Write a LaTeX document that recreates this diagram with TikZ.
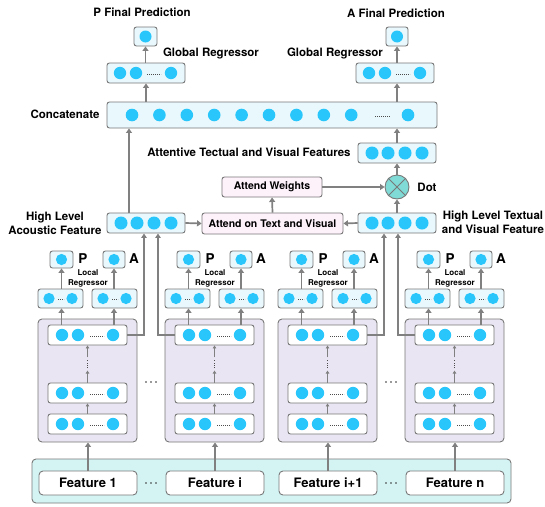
\documentclass[tikz,border=0pt]{standalone}
\usepackage{fontspec}
\setmainfont{TeX Gyre Heros}
\usetikzlibrary{arrows.meta}
\definecolor{dotblue}{RGB}{40,198,250}
\definecolor{lightbox}{RGB}{232,248,253}
\definecolor{grpfill}{RGB}{233,229,242}
\definecolor{pinkbox}{RGB}{253,241,250}
\definecolor{featfill}{RGB}{212,244,244}
\definecolor{tealc}{RGB}{128,218,214}
\definecolor{linegray}{RGB}{128,128,128}
\definecolor{edgegray}{RGB}{120,120,120}
\begin{document}
\begin{tikzpicture}[x=1pt,y=-1pt,
  box/.style={draw=edgegray, line width=0.9pt, rounded corners=2.5pt, inner sep=0pt},
  lbox/.style={box, fill=lightbox},
  wbox/.style={box, fill=white},
  gbox/.style={box, fill=grpfill, rounded corners=4pt},
  pbox/.style={box, fill=pinkbox, font=\fontsize{10.5}{12}\selectfont\bfseries},
  fbox/.style={box, fill=white, rounded corners=4pt, font=\fontsize{13}{15}\selectfont\bfseries},
  lbl/.style={inner sep=0pt, align=center, font=\fontsize{11.5}{14}\selectfont\bfseries},
  palbl/.style={inner sep=0pt, font=\fontsize{13.5}{15}\selectfont\bfseries},
  lrlbl/.style={inner sep=0pt, align=center, font=\fontsize{8}{10}\selectfont\bfseries},
  arr/.style={draw=linegray, line width=1.7pt, -{Triangle[length=4.5pt,width=6pt]}},
  carr/.style={draw=linegray, line width=1.3pt, -{Triangle[length=4.5pt,width=5.5pt]}},
  tarr/.style={draw=linegray, line width=0.7pt, -{Triangle[length=3pt,width=3.5pt]}},
  ell/.style={draw=black!70, line width=0.8pt, dash pattern=on 0.8pt off 1.2pt},
]
\useasboundingbox (0,0) rectangle (545,506);

% ---------- top ----------
\node[lbl] (tPf) at (142,12) {P Final Prediction};
\node[lbl] (tAf) at (396,13) {A Final Prediction};
\node[lbl] (tGRp) at (211,53) {Global Regressor};
\node[lbl] (tGRa) at (335,53) {Global Regressor};
\node[lbl] (tCon) at (65,114) {Concatenate};

\node[lbox, minimum width=23pt, minimum height=19pt] (pfin) at (145.5,36.5) {};
\fill[dotblue] (pfin.center) circle (6pt);
\node[lbox, minimum width=22pt, minimum height=19pt] (afin) at (397,36.5) {};
\fill[dotblue] (afin.center) circle (6pt);

\node[lbox, minimum width=78pt, minimum height=20pt] (grP) at (146,73) {};
\foreach \d in {120,136,171} \fill[dotblue] (\d,73) circle (6.2pt);
\draw[ell] (147,74) -- (161,74);
\node[lbox, minimum width=78pt, minimum height=20pt] (grA) at (395,73) {};
\foreach \d in {369,385,420} \fill[dotblue] (\d,73) circle (6.2pt);
\draw[ell] (396,74) -- (410,74);

\node[lbox, minimum width=330pt, minimum height=26pt] (concat) at (272,115) {};
\foreach \k in {0,...,8} \fill[dotblue] (132+27.4*\k,115) circle (6.3pt);
\fill[dotblue] (408,115) circle (6.3pt);
\draw[ell] (375,116) -- (390,116);

\draw[arr] (grP.south |- concat.north) -- (grP.south);
\draw[arr] (grP.north -| pfin.south) -- (pfin.south);
\draw[arr] (afin.south |- concat.north) -- (afin.south |- grA.south);
\draw[arr] (afin.south |- grA.north) -- (afin.south);

% ---------- middle ----------
\node[lbl] (tAtt) at (249,152) {Attentive Tectual and Visual Features};
\node[lbox, minimum width=78pt, minimum height=20pt] (att) at (397,153) {};
\foreach \d in {372,388,405,422} \fill[dotblue] (\d,153) circle (6.5pt);

\node[circle, draw=edgegray, line width=0.9pt, fill=tealc, minimum size=24pt, inner sep=0pt] (dot) at (397,187) {};
\draw[edgegray, line width=0.9pt] (dot.north west) -- (dot.south east) (dot.north east) -- (dot.south west);
\node[lbl] (tDot) at (427,187) {Dot};

\node[pbox, minimum width=100pt, minimum height=20pt] (aw) at (272,187) {Attend Weights};
\node[pbox, minimum width=141pt, minimum height=21pt] (ao) at (272.5,223.5) {Attend on Text and Visual};

\node[lbox, minimum width=78pt, minimum height=20pt] (hac) at (146,223) {};
\foreach \d in {121,137,154,171} \fill[dotblue] (\d,223) circle (6.5pt);
\node[lbl] (tHac) at (55,223) {High Level\\Acoustic Feature};

\node[lbox, minimum width=78pt, minimum height=20pt] (htv) at (397,223) {};
\foreach \d in {372,388,405,422} \fill[dotblue] (\d,223) circle (6.5pt);
\node[lbl] (tHtv) at (493,222) {High Level Textual\\and Visual Feature};

\path ([xshift=-17pt]hac.north) coordinate (hacu);
\draw[arr] (hacu) -- (hacu |- concat.south);
\draw[arr] (att.north) -- (att.north |- concat.south);
\draw[arr] (dot.north) -- (att.south);
\draw[arr] (htv.north) -- (dot.south);
\draw[arr] (aw.east) -- (dot.west);
\draw[arr] (ao.north) -- (aw.south);
\draw[arr] (hac.east) -- (ao.west);
\draw[arr] (htv.west) -- (ao.east);

% ---------- features container ----------
\node[box, fill=featfill, rounded corners=4pt, minimum width=479pt, minimum height=44pt] (feat) at (271.5,481) {};

% ---------- groups ----------
\foreach \g/\xo/\ft in {1/38/{Feature 1},2/165/{Feature i},3/278/{Feature i+1},4/405/{Feature n}}{
  \node[gbox, minimum width=99pt, minimum height=123pt] (grp\g) at (\xo+49.5,380.5) {};
  \node[wbox, minimum width=79pt, minimum height=20pt] (top\g) at (\xo+49.5,335) {};
  \node[wbox, minimum width=79pt, minimum height=20pt] (mid\g) at (\xo+49.5,393) {};
  \node[wbox, minimum width=79pt, minimum height=20pt] (bot\g) at (\xo+49.5,424) {};
  \foreach \yy in {335,393,424}{
    \foreach \d in {24,40,75} \fill[dotblue] (\xo+\d,\yy) circle (6.2pt);
    \draw[ell] (\xo+52,\yy+1) -- (\xo+66,\yy+1);
  }
  \draw[tarr] (bot\g.north) -- (mid\g.south);
  \draw[tarr] (mid\g.north) -- ++(0,-12);
  \draw[ell, dash pattern=on 0.8pt off 1.5pt] (\xo+49.5,368) -- (\xo+49.5,359);
  \draw[tarr] (top\g.south) ++(0,12) -- (top\g.south);

  \node[lbox, minimum width=45pt, minimum height=19pt] (lrl\g) at (\xo+22.5,298.5) {};
  \node[lbox, minimum width=45pt, minimum height=19pt] (lrr\g) at (\xo+76.5,298.5) {};
  \fill[dotblue] (\xo+11,298.5) circle (5.6pt);
  \fill[dotblue] (\xo+34,298.5) circle (5.6pt);
  \draw[ell] (\xo+20,299) -- (\xo+26,299);
  \fill[dotblue] (\xo+65,298.5) circle (5.6pt);
  \fill[dotblue] (\xo+88,298.5) circle (5.6pt);
  \draw[ell] (\xo+74,299) -- (\xo+80,299);

  \node[lbox, minimum width=23pt, minimum height=17pt] (pb\g) at (\xo+23.5,259.5) {};
  \fill[dotblue] (pb\g.center) circle (5.6pt);
  \node[lbox, minimum width=22pt, minimum height=17pt] (ab\g) at (\xo+76,259.5) {};
  \fill[dotblue] (ab\g.center) circle (5.6pt);
  \node[palbl] (tP\g) at (\xo+45,259) {P};
  \node[palbl] (tA\g) at (\xo+96,259) {A};
  \node[lrlbl] (tLR\g) at (\xo+50,278) {Local\\Regressor};

  \draw[arr] (pb\g.south |- top\g.north) -- (pb\g.south |- lrl\g.south);
  \draw[arr] (pb\g.south |- lrl\g.north) -- (pb\g.south);
  \draw[arr] (ab\g.south |- top\g.north) -- (ab\g.south |- lrr\g.south);
  \draw[arr] (ab\g.south |- lrr\g.north) -- (ab\g.south);

  \node[fbox, minimum width=98pt, minimum height=24pt] (f\g) at (\xo+50,483) {\ft};
  \draw[arr] (f\g.north) -- (f\g.north |- grp\g.south);
}

\draw[carr] (top1.east) -| ([xshift=-2pt]hac.south);
\draw[carr] (top2.west) -| ([xshift=12pt]hac.south);
\draw[carr] (top3.east) -| ([xshift=-13pt]htv.south);
\draw[carr] (top4.west) -| ([xshift=1pt]htv.south);

% ellipsis dots between groups and features
\foreach \cx in {151,391}{
  \foreach \cy in {382,483}{
    \foreach \o in {-5,0,5} \fill[black!80] (\cx+\o,\cy) circle (0.9pt);
  }
}
\end{tikzpicture}
\end{document}
